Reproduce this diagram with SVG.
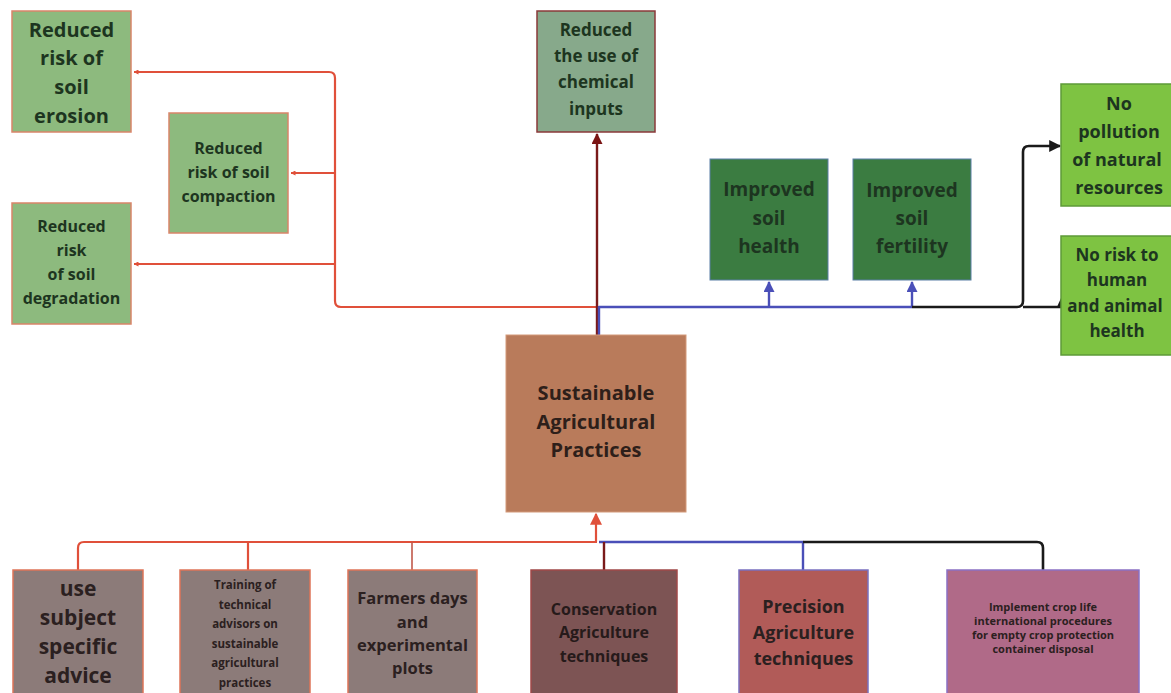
<svg xmlns="http://www.w3.org/2000/svg" width="1171" height="693" viewBox="0 0 1171 693">
  <defs>
    <marker id="ah-red" viewBox="0 0 10 10" refX="9" refY="5" markerWidth="5" markerHeight="5" orient="auto" markerUnits="userSpaceOnUse">
      <path d="M0,0 L10,5 L0,10 z" fill="#e0503a"/>
    </marker>
    <marker id="ah-red-big" viewBox="0 0 10 10" refX="9" refY="5" markerWidth="14" markerHeight="12" orient="auto" markerUnits="userSpaceOnUse">
      <path d="M0,0 L10,5 L0,10 z" fill="#e0503a"/>
    </marker>
    <marker id="ah-dred" viewBox="0 0 10 10" refX="9" refY="5" markerWidth="12" markerHeight="11" orient="auto" markerUnits="userSpaceOnUse">
      <path d="M0,0 L10,5 L0,10 z" fill="#7a1414"/>
    </marker>
    <marker id="ah-blue" viewBox="0 0 10 10" refX="9" refY="5" markerWidth="12" markerHeight="11" orient="auto" markerUnits="userSpaceOnUse">
      <path d="M0,0 L10,5 L0,10 z" fill="#4a4fb8"/>
    </marker>
    <marker id="ah-black" viewBox="0 0 10 10" refX="9" refY="5" markerWidth="14" markerHeight="12" orient="auto" markerUnits="userSpaceOnUse">
      <path d="M0,0 L10,5 L0,10 z" fill="#1a1a1a"/>
    </marker>
  </defs>
  <style>
    text { font-family: "Open Sans", "Liberation Sans", sans-serif; font-weight: 700; text-anchor: middle; }
    .g-dark { fill: #1d3520; }
    .b-dark { fill: #2b2020; }
    .soft { fill: #8dba7e; stroke: #d9856a; stroke-width: 1.5; }
    .chem { fill: #87a98b; stroke: #8a3a3a; stroke-width: 1.5; }
    .deep { fill: #3b7c41; stroke: #5b7fa6; stroke-width: 1; }
    .lime { fill: #7ec342; stroke: #5e9a38; stroke-width: 1.5; }
    .core { fill: #b97b5b; stroke: #d39a7a; stroke-width: 1; }
    .grey { fill: #8c7b79; stroke: #de7458; stroke-width: 1.5; }
    .cons { fill: #7d5454; stroke: #a04848; stroke-width: 1.5; }
    .prec { fill: #b15b58; stroke: #7a70c0; stroke-width: 1.5; }
    .impl { fill: #b06a88; stroke: #8a70c4; stroke-width: 1.5; }
    .ln { fill: none; stroke-linejoin: round; }
    .red { stroke: #e0503a; stroke-width: 2.2; }
    .dred { stroke: #7a1a1a; stroke-width: 2.4; }
    .blue { stroke: #4a4fb8; stroke-width: 2.4; }
    .black { stroke: #1a1a1a; stroke-width: 2.6; }
  </style>

  <!-- connectors -->
  <g id="connectors">
    <!-- red outcome branch to the left -->
    <path class="ln red" d="M597,307 L341,307 Q335,307 335,301 L335,78 Q335,72 329,72 L134,72" marker-end="url(#ah-red)"/>
    <path class="ln red" d="M335,173 L291,173" marker-end="url(#ah-red)"/>
    <path class="ln red" d="M335,264 L134,264" marker-end="url(#ah-red)"/>
    <!-- chemical inputs -->
    <path class="ln dred" d="M597,338 L597,134" marker-end="url(#ah-dred)"/>
    <!-- blue to soil boxes -->
    <path class="ln blue" d="M599,338 L599,307 L912,307"/>
    <path class="ln blue" d="M769,307 L769,282" marker-end="url(#ah-blue)"/>
    <path class="ln blue" d="M912,307 L912,282" marker-end="url(#ah-blue)"/>
    <!-- black to right-hand outcomes -->
    <path class="ln black" d="M912,307 L1017,307 Q1023,307 1023,301 L1023,152 Q1023,146 1029,146 L1060,146" marker-end="url(#ah-black)"/>
    <path class="ln black" d="M1023,307 L1061,307"/>
    <path d="M1057,307 L1061,298 L1065,307 z" fill="#1a1a1a"/>
    <!-- bottom red practices feed -->
    <path class="ln red" d="M78,570 L78,548 Q78,542 84,542 L597,542"/>
    <path class="ln red" d="M248,570 L248,542"/>
    <path class="ln" stroke="#c0584a" stroke-width="1.6" d="M412,570 L412,542"/>
    <path class="ln red" d="M596,542 L596,514" marker-end="url(#ah-red-big)"/>
    <!-- blue and black bottom -->
    <path class="ln blue" d="M599,542 L803,542 L803,570"/>
    <path class="ln black" d="M803,542 L1037,542 Q1043,542 1043,548 L1043,570"/>
    <path class="ln dred" d="M604,542 L604,570"/>
  </g>

  <!-- top-left outcomes -->
  <g id="n-erosion">
    <rect class="soft" x="12" y="11" width="119" height="121"/>
    <text class="g-dark" font-size="20"><tspan x="71.5" y="37">Reduced</tspan><tspan x="71.5" y="65">risk of</tspan><tspan x="71.5" y="94">soil</tspan><tspan x="71.5" y="123">erosion</tspan></text>
  </g>
  <g id="n-compaction">
    <rect class="soft" x="169" y="113" width="119" height="120"/>
    <text class="g-dark" font-size="16"><tspan x="228.5" y="154">Reduced</tspan><tspan x="228.5" y="178">risk of soil</tspan><tspan x="228.5" y="202">compaction</tspan></text>
  </g>
  <g id="n-degradation">
    <rect class="soft" x="12" y="203" width="119" height="121"/>
    <text class="g-dark" font-size="16"><tspan x="71.5" y="232">Reduced</tspan><tspan x="71.5" y="256">risk</tspan><tspan x="71.5" y="280">of soil</tspan><tspan x="71.5" y="304">degradation</tspan></text>
  </g>
  <g id="n-chemical">
    <rect class="chem" x="537" y="11" width="118" height="121"/>
    <text class="g-dark" font-size="17"><tspan x="596" y="36">Reduced</tspan><tspan x="596" y="62">the use of</tspan><tspan x="596" y="88">chemical</tspan><tspan x="596" y="115">inputs</tspan></text>
  </g>
  <g id="n-health">
    <rect class="deep" x="710" y="159" width="118" height="121"/>
    <text class="g-dark" font-size="19"><tspan x="769" y="196">Improved</tspan><tspan x="769" y="225">soil</tspan><tspan x="769" y="253">health</tspan></text>
  </g>
  <g id="n-fertility">
    <rect class="deep" x="853" y="159" width="118" height="121"/>
    <text class="g-dark" font-size="19"><tspan x="912" y="197">Improved</tspan><tspan x="912" y="225">soil</tspan><tspan x="912" y="253">fertility</tspan></text>
  </g>
  <g id="n-pollution">
    <rect class="lime" x="1061" y="84" width="116" height="122"/>
    <text class="g-dark" font-size="18"><tspan x="1119" y="110">No</tspan><tspan x="1119" y="138">pollution</tspan><tspan x="1117" y="166">of natural</tspan><tspan x="1119" y="194">resources</tspan></text>
  </g>
  <g id="n-risk">
    <rect class="lime" x="1061" y="236" width="116" height="119"/>
    <text class="g-dark" font-size="17"><tspan x="1117" y="261">No risk to</tspan><tspan x="1117" y="286">human</tspan><tspan x="1115" y="312">and animal</tspan><tspan x="1117" y="337">health</tspan></text>
  </g>

  <!-- central node -->
  <g id="n-core">
    <rect class="core" x="506" y="335" width="180" height="177"/>
    <text fill="#2e1f1a" font-size="20"><tspan x="596" y="400">Sustainable</tspan><tspan x="596" y="429">Agricultural</tspan><tspan x="596" y="457">Practices</tspan></text>
  </g>

  <!-- practices -->
  <g id="n-advice">
    <rect class="grey" x="13" y="570" width="130" height="130"/>
    <text class="b-dark" font-size="21"><tspan x="78" y="596">use</tspan><tspan x="78" y="625">subject</tspan><tspan x="78" y="654">specific</tspan><tspan x="78" y="683">advice</tspan></text>
  </g>
  <g id="n-training">
    <rect class="grey" x="180" y="570" width="130" height="130"/>
    <text class="b-dark" font-size="11.5"><tspan x="245" y="589">Training of</tspan><tspan x="245" y="609">technical</tspan><tspan x="245" y="628">advisors on</tspan><tspan x="245" y="648">sustainable</tspan><tspan x="245" y="667">agricultural</tspan><tspan x="245" y="687">practices</tspan></text>
  </g>
  <g id="n-farmers">
    <rect class="grey" x="348" y="570" width="129" height="130"/>
    <text class="b-dark" font-size="16.5"><tspan x="412.5" y="604">Farmers days</tspan><tspan x="412.5" y="628">and</tspan><tspan x="412.5" y="651">experimental</tspan><tspan x="412.5" y="674">plots</tspan></text>
  </g>
  <g id="n-conservation">
    <rect class="cons" x="531" y="570" width="146" height="130"/>
    <text fill="#261a1a" font-size="16"><tspan x="604" y="615">Conservation</tspan><tspan x="604" y="638">Agriculture</tspan><tspan x="604" y="662">techniques</tspan></text>
  </g>
  <g id="n-precision">
    <rect class="prec" x="739" y="570" width="129" height="130"/>
    <text class="b-dark" font-size="18"><tspan x="803.5" y="613">Precision</tspan><tspan x="803.5" y="639">Agriculture</tspan><tspan x="803.5" y="665">techniques</tspan></text>
  </g>
  <g id="n-disposal">
    <rect class="impl" x="947" y="570" width="192" height="130"/>
    <text class="b-dark" font-size="11"><tspan x="1043" y="611">Implement crop life</tspan><tspan x="1043" y="625">international procedures</tspan><tspan x="1043" y="639">for empty crop protection</tspan><tspan x="1043" y="653">container disposal</tspan></text>
  </g>
</svg>
